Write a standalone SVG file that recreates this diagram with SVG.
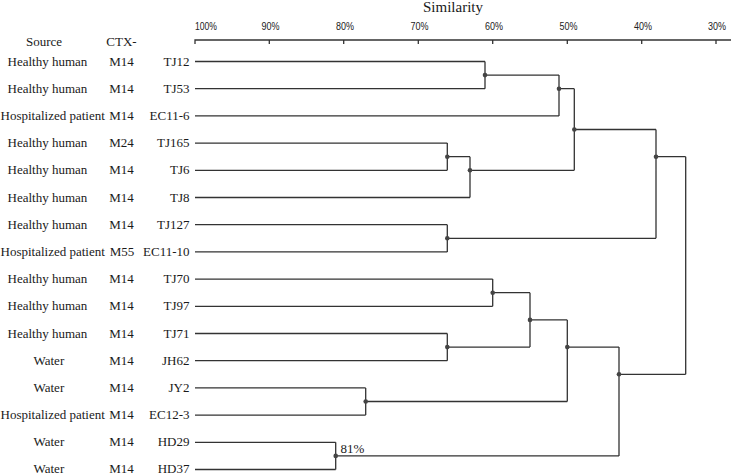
<svg xmlns="http://www.w3.org/2000/svg" width="733" height="474" viewBox="0 0 733 474">
<style>
.t{font-family:"Liberation Serif","Times New Roman",serif;font-size:13px;fill:#1a1a1a}
.ax{font-family:"Liberation Sans",Arial,sans-serif;font-size:10px;fill:#222}
.ttl{font-family:"Liberation Serif","Times New Roman",serif;font-size:15px;fill:#1a1a1a}
.m{text-anchor:middle}
.e{text-anchor:end}
.ln{fill:none;stroke:#333;stroke-width:1.3}
.dot{fill:#444}
</style>
<rect width="733" height="474" fill="#fff"/>
<g id="axis">
<text class="ttl m" x="453" y="12">Similarity</text>
<path class="ln" d="M195 44V40H731M269.3 40V44M343.7 40V44M418.3 40V44M492.7 40V44M567.3 40V44M641.7 40V44M716 40V44"/>
<text class="ax" x="195" y="30" textLength="22" lengthAdjust="spacingAndGlyphs">100%</text>
<text class="ax m" x="270.5" y="30" textLength="18" lengthAdjust="spacingAndGlyphs">90%</text>
<text class="ax m" x="345" y="30" textLength="18" lengthAdjust="spacingAndGlyphs">80%</text>
<text class="ax m" x="419.5" y="30" textLength="18" lengthAdjust="spacingAndGlyphs">70%</text>
<text class="ax m" x="494" y="30" textLength="18" lengthAdjust="spacingAndGlyphs">60%</text>
<text class="ax m" x="568.5" y="30" textLength="18" lengthAdjust="spacingAndGlyphs">50%</text>
<text class="ax m" x="643" y="30" textLength="18" lengthAdjust="spacingAndGlyphs">40%</text>
<text class="ax m" x="717" y="30" textLength="18" lengthAdjust="spacingAndGlyphs">30%</text>
</g>
<g id="header">
<text class="t" x="26" y="45.5">Source</text>
<text class="t m" x="121.5" y="45.5">CTX-</text>
</g>
<g id="leaf-TJ12"><text class="t" x="7.5" y="65.5">Healthy human</text><text class="t m" x="121.5" y="65.5">M14</text><text class="t e" x="189.5" y="65.5">TJ12</text></g>
<g id="leaf-TJ53"><text class="t" x="7.5" y="92.7">Healthy human</text><text class="t m" x="121.5" y="92.7">M14</text><text class="t e" x="189.5" y="92.7">TJ53</text></g>
<g id="leaf-EC11-6"><text class="t" x="0.5" y="119.9">Hospitalized patient</text><text class="t m" x="121.5" y="119.9">M14</text><text class="t e" x="189.5" y="119.9">EC11-6</text></g>
<g id="leaf-TJ165"><text class="t" x="7.5" y="147.1">Healthy human</text><text class="t m" x="121.5" y="147.1">M24</text><text class="t e" x="189.5" y="147.1">TJ165</text></g>
<g id="leaf-TJ6"><text class="t" x="7.5" y="174.3">Healthy human</text><text class="t m" x="121.5" y="174.3">M14</text><text class="t e" x="189.5" y="174.3">TJ6</text></g>
<g id="leaf-TJ8"><text class="t" x="7.5" y="201.5">Healthy human</text><text class="t m" x="121.5" y="201.5">M14</text><text class="t e" x="189.5" y="201.5">TJ8</text></g>
<g id="leaf-TJ127"><text class="t" x="7.5" y="228.7">Healthy human</text><text class="t m" x="121.5" y="228.7">M14</text><text class="t e" x="189.5" y="228.7">TJ127</text></g>
<g id="leaf-EC11-10"><text class="t" x="0.5" y="255.9">Hospitalized patient</text><text class="t m" x="122" y="255.9">M55</text><text class="t e" x="189.5" y="255.9">EC11-10</text></g>
<g id="leaf-TJ70"><text class="t" x="7.5" y="283.1">Healthy human</text><text class="t m" x="121.5" y="283.1">M14</text><text class="t e" x="189.5" y="283.1">TJ70</text></g>
<g id="leaf-TJ97"><text class="t" x="7.5" y="310.3">Healthy human</text><text class="t m" x="121.5" y="310.3">M14</text><text class="t e" x="189.5" y="310.3">TJ97</text></g>
<g id="leaf-TJ71"><text class="t" x="7.5" y="337.5">Healthy human</text><text class="t m" x="121.5" y="337.5">M14</text><text class="t e" x="189.5" y="337.5">TJ71</text></g>
<g id="leaf-JH62"><text class="t" x="33.5" y="364.7">Water</text><text class="t m" x="121.5" y="364.7">M14</text><text class="t e" x="189.5" y="364.7">JH62</text></g>
<g id="leaf-JY2"><text class="t" x="33.5" y="391.9">Water</text><text class="t m" x="121.5" y="391.9">M14</text><text class="t e" x="189.5" y="391.9">JY2</text></g>
<g id="leaf-EC12-3"><text class="t" x="0.5" y="419.1">Hospitalized patient</text><text class="t m" x="121.5" y="419.1">M14</text><text class="t e" x="189.5" y="419.1">EC12-3</text></g>
<g id="leaf-HD29"><text class="t" x="33.5" y="446.3">Water</text><text class="t m" x="121.5" y="446.3">M14</text><text class="t e" x="189.5" y="446.3">HD29</text></g>
<g id="leaf-HD37"><text class="t" x="33.5" y="472.5">Water</text><text class="t m" x="121.5" y="472.5">M14</text><text class="t e" x="189.5" y="472.5">HD37</text></g>
<g id="connectors">
<path class="ln" d="M195 61.5H485M195 88.7H485M195 115.9H559M195 143.1H447.3M195 170.3H447.3M195 197.5H470M195 224.7H447.3M195 251.9H447.3M195 279.1H492.7M195 306.3H492.7M195 333.5H447.3M195 360.7H447.3M195 387.9H365.7M195 415.1H365.7M195 442.3H335.7M195 469.5H335.7"/>
<path class="ln" d="M485 61.5V88.7M485 75.1H559M559 75.1V115.9M559 88.7H574.3M447.3 143.1V170.3M447.3 156.7H470M470 156.7V197.5M470 170.3H574.3M574.3 88.7V170.3M574.3 129.5H656M447.3 224.7V251.9M447.3 238.3H656M656 129.5V238.3M656 156.7H685.7M492.7 279.1V306.3M492.7 292.7H530M447.3 333.5V360.7M447.3 347.1H530M530 292.7V347.1M530 319.9H567.3M365.7 387.9V415.1M365.7 401.5H567.3M567.3 319.9V401.5M567.3 347.1H619M335.7 442.3V469.5M335.7 455.9H619M619 347.1V455.9M619 374.3H685.7M685.7 156.7V374.3"/>
</g>
<g id="nodes">
<circle class="dot" cx="485" cy="75.1" r="2.3"/>
<circle class="dot" cx="559" cy="88.7" r="2.3"/>
<circle class="dot" cx="447.3" cy="156.7" r="2.3"/>
<circle class="dot" cx="470" cy="170.3" r="2.3"/>
<circle class="dot" cx="574.3" cy="129.5" r="2.3"/>
<circle class="dot" cx="447.3" cy="238.3" r="2.3"/>
<circle class="dot" cx="656" cy="156.7" r="2.3"/>
<circle class="dot" cx="492.7" cy="292.7" r="2.3"/>
<circle class="dot" cx="447.3" cy="347.1" r="2.3"/>
<circle class="dot" cx="530" cy="319.9" r="2.3"/>
<circle class="dot" cx="365.7" cy="401.5" r="2.3"/>
<circle class="dot" cx="567.3" cy="347.1" r="2.3"/>
<circle class="dot" cx="335.7" cy="455.9" r="2.3"/>
<circle class="dot" cx="619" cy="374.3" r="2.3"/>
<text class="t" x="340.5" y="453">81%</text>
</g>
</svg>
